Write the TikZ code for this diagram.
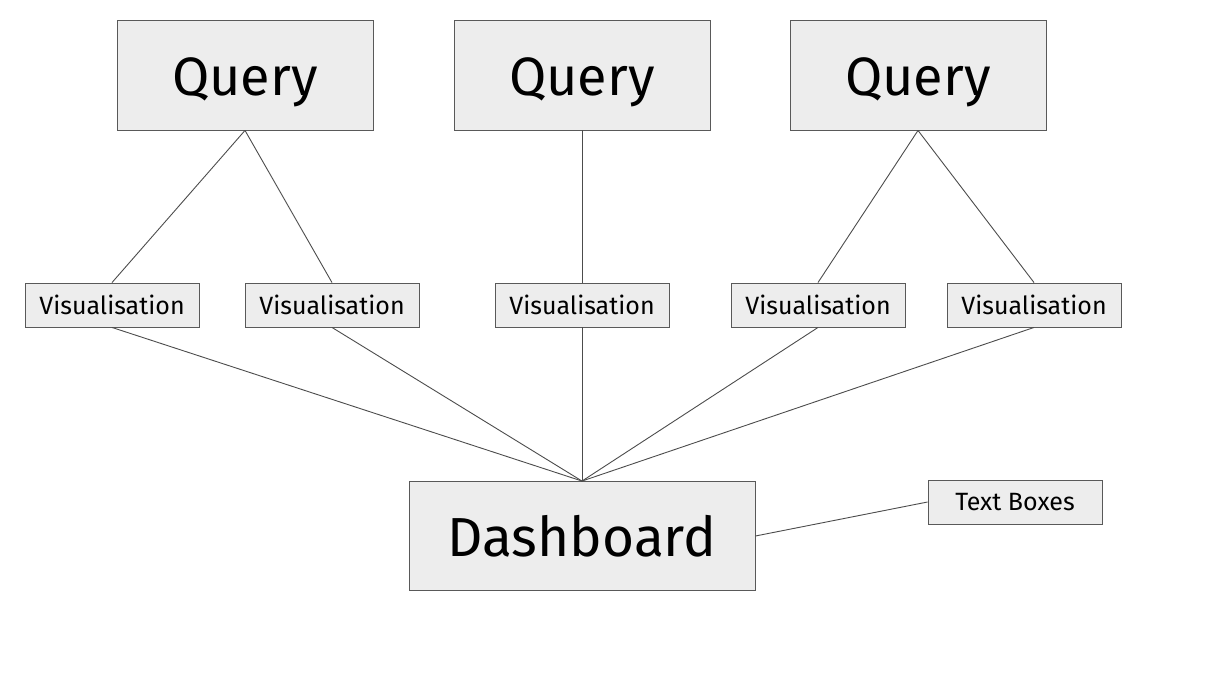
\documentclass[tikz,border=0pt]{standalone}
\usepackage{fontspec}
\setmainfont{Fira Sans}
\newcommand{\lowertext}[1]{\raisebox{0pt}[\dimexpr\height+14pt\relax][\depth]{#1}}
\begin{document}
\begin{tikzpicture}[x=1pt,y=-1pt,
  box/.style={draw=black!65,fill=black!7,line width=0.9pt,inner sep=0pt,anchor=center},
  bigbox/.style={box,minimum width=256pt,minimum height=110pt,font=\fontsize{54}{56}\selectfont},
  smallbox/.style={box,minimum width=174pt,minimum height=44pt,font=\fontsize{25}{27}\selectfont},
  link/.style={draw=black!70,line width=0.9pt}]
\useasboundingbox (0,0) rectangle (1226,688);
\node[bigbox] (q1) at (245,75) {\lowertext{Query}};
\node[bigbox] (q2) at (582,75) {\lowertext{Query}};
\node[bigbox] (q3) at (918,75) {\lowertext{Query}};
\node[smallbox] (v1) at (112,305) {Visualisation};
\node[smallbox] (v2) at (332,305) {Visualisation};
\node[smallbox] (v3) at (582,305) {Visualisation};
\node[smallbox] (v4) at (818,305) {Visualisation};
\node[smallbox] (v5) at (1034,305) {Visualisation};
\node[box,minimum width=346pt,minimum height=109pt,font=\fontsize{55}{57}\selectfont] (d) at (582,536) {Dashboard};
\node[smallbox] (t) at (1015,502) {Text Boxes};
\draw[link] (q1.south) -- (v1.north);
\draw[link] (q1.south) -- (v2.north);
\draw[link] (q2.south) -- (v3.north);
\draw[link] (q3.south) -- (v4.north);
\draw[link] (q3.south) -- (v5.north);
\foreach \v in {v1,v2,v3,v4,v5} \draw[link] (\v.south) -- (d.north);
\draw[link] (d.east) -- (t.west);
\end{tikzpicture}
\end{document}
